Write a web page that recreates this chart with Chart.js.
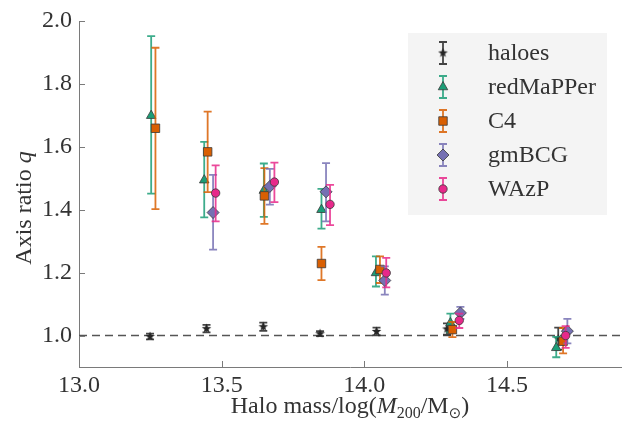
<!DOCTYPE html>
<html>
<head>
<meta charset="utf-8">
<script src="https://cdn.jsdelivr.net/npm/chart.js@4.4.1/dist/chart.umd.min.js"></script>
<style>
  html, body { margin: 0; padding: 0; background: #fff; }
  #wrap { width: 636px; height: 423px; }
</style>
</head>
<body>
<div id="wrap"><canvas id="myChart"></canvas></div>
<script>
// data
var seriesNames = ["haloes", "redMaPPer", "C4", "gmBCG", "WAzP"];

var haloesX  = [13.249, 13.447, 13.646, 13.845, 14.043, 14.290, 14.680];
var haloesQ  = [0.997, 1.022, 1.028, 1.006, 1.013, 1.021, 0.990];
var haloesLo = [0.988, 1.010, 1.015, 0.998, 1.001, 1.003, 0.955];
var haloesHi = [1.006, 1.034, 1.041, 1.014, 1.025, 1.039, 1.025];

var redmapperX  = [13.253, 13.439, 13.648, 13.850, 14.041, 14.302, 14.673];
var redmapperQ  = [1.699, 1.494, 1.461, 1.400, 1.199, 1.040, 0.961];
var redmapperLo = [1.451, 1.376, 1.377, 1.340, 1.156, 1.010, 0.931];
var redmapperHi = [1.952, 1.616, 1.547, 1.466, 1.252, 1.070, 0.996];

var c4X  = [13.268, 13.451, 13.650, 13.850, 14.055, 14.309, 14.697];
var c4Q  = [1.659, 1.584, 1.444, 1.229, 1.210, 1.019, 0.982];
var c4Lo = [1.402, 1.456, 1.355, 1.176, 1.167, 0.995, 0.943];
var c4Hi = [1.915, 1.712, 1.532, 1.282, 1.252, 1.043, 1.024];

var gmbcgX  = [13.470, 13.669, 13.866, 14.072, 14.337, 14.712];
var gmbcgQ  = [1.391, 1.474, 1.457, 1.175, 1.072, 1.014];
var gmbcgLo = [1.273, 1.416, 1.363, 1.130, 1.053, 0.975];
var gmbcgHi = [1.511, 1.530, 1.548, 1.220, 1.091, 1.053];

var wazpX  = [13.479, 13.685, 13.880, 14.077, 14.333, 14.706];
var wazpQ  = [1.453, 1.488, 1.417, 1.199, 1.048, 1.000];
var wazpLo = [1.363, 1.424, 1.351, 1.153, 1.024, 0.961];
var wazpHi = [1.541, 1.550, 1.479, 1.247, 1.070, 1.030];

var xTicks = [13.0, 13.5, 14.0, 14.5];
var yTicks = [1.0, 1.2, 1.4, 1.6, 1.8, 2.0];
var refQ = 1.0;

var FONT = "'Liberation Serif', 'Times New Roman', serif";
var TXT = "#333333";
var SPINE = "#7a7a7a";

// filled star marker for haloes
function makeStar(col) {
  var c = document.createElement("canvas");
  c.width = 11; c.height = 11;
  var g = c.getContext("2d");
  g.beginPath();
  for (var i = 0; i < 10; i++) {
    var r = i % 2 === 0 ? 5 : 2.1;
    var a = -Math.PI / 2 + i * Math.PI / 5;
    g.lineTo(5.5 + r * Math.cos(a), 5.5 + r * Math.sin(a));
  }
  g.closePath();
  g.fillStyle = col;
  g.fill();
  return c;
}

function pts(xs, ys, lo, hi) {
  return xs.map(function (x, i) {
    return { x: x, y: ys[i], lo: lo[i], hi: hi[i] };
  });
}

function ds(label, data, color, style, radius, order) {
  return {
    label: label,
    data: data,
    backgroundColor: color,
    borderColor: style instanceof HTMLCanvasElement ? color : "#3a3a3a",
    borderWidth: 0.8,
    pointStyle: style,
    pointRadius: radius,
    pointHoverRadius: radius,
    barColor: color,
    order: order,
  };
}

var datasets = [
  ds(seriesNames[0], pts(haloesX, haloesQ, haloesLo, haloesHi), "#262626", makeStar("#262626"), 5, 5),
  ds(seriesNames[1], pts(redmapperX, redmapperQ, redmapperLo, redmapperHi), "#1b9e77", "triangle", 5.5, 4),
  ds(seriesNames[2], pts(c4X, c4Q, c4Lo, c4Hi), "#d95f02", "rect", 6, 3),
  ds(seriesNames[3], pts(gmbcgX, gmbcgQ, gmbcgLo, gmbcgHi), "#7570b3", "rectRot", 6, 2),
  ds(seriesNames[4], pts(wazpX, wazpQ, wazpLo, wazpHi), "#e7298a", "circle", 4.2, 1),
];

function drawBar(ctx, x, y1, y2, color, cap) {
  ctx.save();
  ctx.strokeStyle = color;
  ctx.globalAlpha = 0.85;
  ctx.lineWidth = 1.8;
  ctx.beginPath();
  ctx.moveTo(x, y1); ctx.lineTo(x, y2);
  ctx.moveTo(x - cap, y1); ctx.lineTo(x + cap, y1);
  ctx.moveTo(x - cap, y2); ctx.lineTo(x + cap, y2);
  ctx.stroke();
  ctx.restore();
}

// error bars under each series' own markers
var errorBars = {
  id: "errorBars",
  beforeDatasetDraw: function (chart, args) {
    var d = chart.data.datasets[args.index];
    var xs = chart.scales.x, ys = chart.scales.y;
    var ctx = chart.ctx;
    ctx.save();
    ctx.beginPath();
    ctx.rect(chart.chartArea.left, chart.chartArea.top, chart.chartArea.right - chart.chartArea.left, chart.chartArea.bottom - chart.chartArea.top);
    ctx.clip();
    d.data.forEach(function (p) {
      drawBar(ctx, xs.getPixelForValue(p.x), ys.getPixelForValue(p.hi), ys.getPixelForValue(p.lo), d.barColor, 4);
    });
    ctx.restore();
  },
};

// dashed reference line, inward ticks, axis titles, legend
var decor = {
  id: "decor",
  beforeDatasetsDraw: function (chart) {
    var ctx = chart.ctx, a = chart.chartArea;
    var y = chart.scales.y.getPixelForValue(refQ);
    ctx.save();
    ctx.strokeStyle = "#555555";
    ctx.lineWidth = 1.6;
    ctx.setLineDash([8, 5]);
    ctx.beginPath();
    ctx.moveTo(a.left, y); ctx.lineTo(a.right, y);
    ctx.stroke();
    ctx.restore();
  },
  afterDraw: function (chart) {
    var ctx = chart.ctx, a = chart.chartArea;
    var xs = chart.scales.x, ys = chart.scales.y;
    ctx.save();
    ctx.strokeStyle = SPINE;
    ctx.lineWidth = 1;
    ctx.beginPath();
    xTicks.forEach(function (v) {
      var px = Math.round(xs.getPixelForValue(v)) + 0.5;
      ctx.moveTo(px, a.bottom); ctx.lineTo(px, a.bottom - 6);
    });
    yTicks.forEach(function (v) {
      var py = Math.round(ys.getPixelForValue(v)) + 0.5;
      ctx.moveTo(a.left, py); ctx.lineTo(a.left + 6, py);
    });
    ctx.stroke();

    // x title with italic M and subscripts
    var parts = [
      { t: "Halo mass/log(", f: "24px " + FONT, dy: 0 },
      { t: "M", f: "italic 24px " + FONT, dy: 0 },
      { t: "200", f: "16px " + FONT, dy: 5 },
      { t: "/M", f: "24px " + FONT, dy: 0 },
      { t: "\u2299", f: "15px 'DejaVu Sans', sans-serif", dy: 5 },
      { t: ")", f: "24px " + FONT, dy: 0 },
    ];
    var w = 0;
    parts.forEach(function (p) { ctx.font = p.f; p.w = ctx.measureText(p.t).width; w += p.w; });
    var x0 = (a.left + a.right) / 2 - w / 2, base = 413;
    ctx.fillStyle = TXT;
    ctx.textBaseline = "alphabetic";
    ctx.textAlign = "left";
    parts.forEach(function (p) { ctx.font = p.f; ctx.fillText(p.t, x0, base + p.dy); x0 += p.w; });

    // y title
    ctx.save();
    ctx.translate(31, 208);
    ctx.rotate(-Math.PI / 2);
    var yp = [
      { t: "Axis ratio ", f: "24px " + FONT },
      { t: "q", f: "italic 24px " + FONT },
    ];
    w = 0;
    yp.forEach(function (p) { ctx.font = p.f; p.w = ctx.measureText(p.t).width; w += p.w; });
    x0 = -w / 2;
    yp.forEach(function (p) { ctx.font = p.f; ctx.fillText(p.t, x0, 0); x0 += p.w; });
    ctx.restore();

    // legend box
    var lx = 408, ly = 33, lw = 199, lh = 182, step = 34;
    ctx.fillStyle = "rgba(242,242,242,0.85)";
    ctx.fillRect(lx, ly, lw, lh);
    chart.data.datasets.forEach(function (d, i) {
      var cy = 53 + i * step, mx = 443;
      drawBar(ctx, mx, cy - 11, cy + 11, d.barColor, 4);
      ctx.fillStyle = d.backgroundColor;
      ctx.strokeStyle = d.borderColor;
      ctx.lineWidth = d.borderWidth;
      Chart.helpers.drawPoint(ctx, { pointStyle: d.pointStyle, radius: d.pointRadius, rotation: 0, borderWidth: d.borderWidth }, mx, cy);
      ctx.fillStyle = TXT;
      ctx.font = "24px " + FONT;
      ctx.textBaseline = "middle";
      ctx.fillText(d.label, 488, cy + 1);
    });
    ctx.restore();
  },
};

var ctx = document.getElementById("myChart").getContext("2d");
var chart = new Chart(ctx, {
  type: "scatter",
  data: { datasets: datasets },
  options: {
    responsive: true,
    maintainAspectRatio: false,
    animation: false,
    layout: { padding: { top: 21, right: 15, left: 0, bottom: 0 } },
    plugins: {
      legend: { display: false },
      tooltip: { enabled: false },
    },
    scales: {
      x: {
        type: "linear",
        min: 13.0,
        max: 14.9,
        grid: { display: false },
        border: { display: true, color: SPINE, width: 1 },
        afterBuildTicks: function (s) { s.ticks = xTicks.map(function (v) { return { value: v }; }); },
        afterFit: function (s) { s.height = 56; },
        ticks: {
          padding: -4,
          color: TXT,
          font: { family: FONT, size: 24 },
          callback: function (v) { return v.toFixed(1); },
        },
      },
      y: {
        type: "linear",
        min: 0.9,
        max: 2.0,
        grid: { display: false },
        border: { display: true, color: SPINE, width: 1 },
        afterBuildTicks: function (s) { s.ticks = yTicks.map(function (v) { return { value: v }; }); },
        afterFit: function (s) { s.width = 79; },
        ticks: {
          padding: -1,
          color: TXT,
          font: { family: FONT, size: 24 },
          callback: function (v) { return v.toFixed(1); },
        },
      },
    },
  },
  plugins: [errorBars, decor],
});
</script>
</body>
</html>
